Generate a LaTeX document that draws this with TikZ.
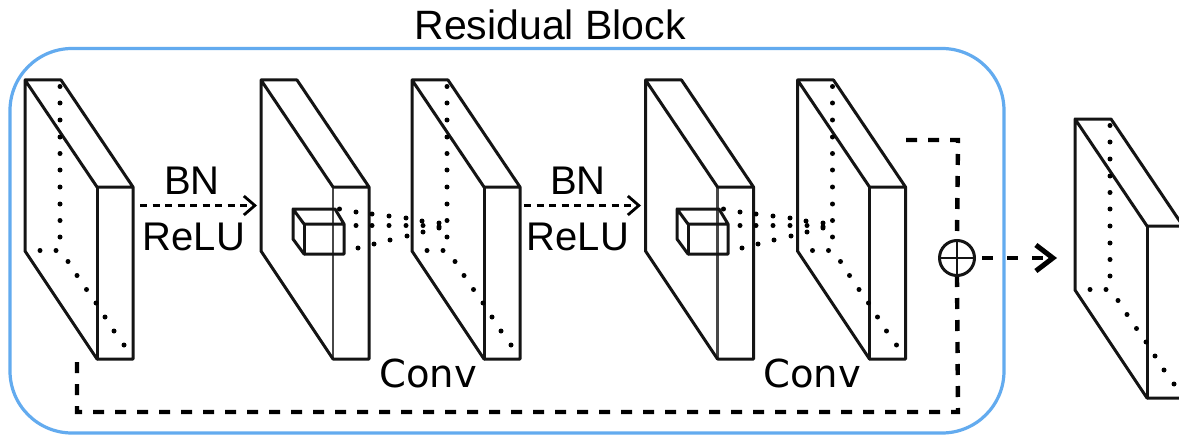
\documentclass[tikz,border=0pt]{standalone}
\usepackage{fontspec}
\setmainfont{Liberation Sans}
\newfontfamily\convfont{DejaVu Sans}
\usetikzlibrary{arrows.meta,calc}
\definecolor{blockblue}{HTML}{63ABEF}
\tikzset{
  edge/.style={line width=3pt,line join=round,line cap=round,draw=black!92},
  inneredge/.style={line width=2.6pt,draw=black!72},
  hiddot/.style={fill=black,draw=none},
  titlelab/.style={font=\fontsize{41}{44}\selectfont,inner sep=0pt,text=black},
  lab/.style={font=\fontsize{40}{42}\selectfont,inner sep=0pt,text=black},
  convlab/.style={font=\convfont\fontsize{38.5}{42}\selectfont,inner sep=0pt,text=black},
  flowline/.style={line width=2.6pt,dash pattern=on 7pt off 5.5pt,-{Straight Barb[length=11pt,width=19pt,line width=2.8pt]}},
  skipline/.style={line width=4.4pt,dash pattern=on 11pt off 11pt},
  outflow/.style={line width=4.4pt,dash pattern=on 11pt off 14pt,-{Straight Barb[length=17pt,width=26pt,line width=5pt]}},
  sumnode/.style={circle,draw=black!92,fill=white,line width=3pt,minimum size=35pt,inner sep=0pt},
  sumcross/.style={line width=2.8pt,draw=black!92}
}
% slab outline: #1 name, #2 dx, #3 dy, #4 style of the inner front edge
\newcommand{\slab}[4]{%
  \begin{scope}[shift={(#2,#3)}]
    \coordinate (#1-a) at (25,80);
    \coordinate (#1-b) at (61,80);
    \coordinate (#1-c) at (97,187);
    \coordinate (#1-d) at (133,187);
    \coordinate (#1-e) at (133,359);
    \coordinate (#1-f) at (97,359);
    \coordinate (#1-g) at (25,251);
    \draw[#4] (#1-c) -- (#1-f);
    \draw[edge] (#1-a) -- (#1-b) -- (#1-d) -- (#1-e) -- (#1-f) -- (#1-g) -- (#1-a) -- (#1-c) -- (#1-d);
  \end{scope}}
% hidden edges of a slab, dotted: #1 dx, #2 dy
\newcommand{\slabdots}[2]{%
  \begin{scope}[shift={(#1,#2)}]
    \foreach \yy in {86.5,103,120,137,153.5,170,187,204,220.5,237}
      \fill[hiddot] (60,\yy) circle (2.5);
    \foreach \xx/\yy in {40/250.5,56/250.5,68/261.5,77/275.5,86.5/289.5,96/303,105/317,114/331,124/345}
      \fill[hiddot] (\xx,\yy) circle (2.5);
  \end{scope}}
% small cube and its receptive-field dots: #1 name, #2 dx
\newcommand{\smallcube}[2]{%
  \begin{scope}[shift={(#2,0)}]
    \coordinate (#1-p) at (293,209);
    \coordinate (#1-q) at (335,209);
    \coordinate (#1-r) at (304,224);
    \coordinate (#1-s) at (344,224);
    \coordinate (#1-t) at (344,254);
    \coordinate (#1-u) at (304,254);
    \coordinate (#1-v) at (293,239);
    \draw[edge] (#1-p) -- (#1-q) -- (#1-s) -- (#1-t) -- (#1-u) -- (#1-v) -- (#1-p) -- (#1-r) -- (#1-s);
    \draw[edge] (#1-r) -- (#1-u);
    \foreach \xx/\yy in {339.5/209,356/212,372/214,389/216,406/218,422/221,439/223,
                         356/225.5,372/225.5,389/225.5,406/225.5,423/225.5,439/226.5,
                         358/248,374/244,390/240,407/236,423/232,439/228}
      \fill[hiddot] (\xx,\yy) circle (2.5);
  \end{scope}}
\begin{document}
\begin{tikzpicture}[x=1pt,y=-1pt]
  \useasboundingbox (0,0) rectangle (1179,436);
  \clip (0,0) rectangle (1179,436);
  \fill[white] (0,0) rectangle (1179,436);
  \node[titlelab] (title) at (550,25) {Residual Block};
  \draw[blockblue,line width=3.2pt,rounded corners=62pt] (10,48.5) rectangle (1004,433);
  \slab{s1}{0}{0}{edge}
  \slabdots{0}{0}
  \slab{s2}{236}{0}{inneredge}
  \slab{s3}{387}{0}{edge}
  \slabdots{387}{0}
  \slab{s4}{620.5}{0}{inneredge}
  \slab{s5}{772.5}{0}{edge}
  \slabdots{772.5}{0}
  \slab{s6}{1050}{39}{edge}
  \slabdots{1050}{39}
  \smallcube{c1}{0}
  \smallcube{c2}{384}
  \node[lab] (bn1) at (192,181) {BN};
  \node[lab] (relu1) at (194,237) {ReLU};
  \node[lab] (bn2) at (578,181) {BN};
  \node[lab] (relu2) at (578,237) {ReLU};
  \node[convlab] (conv1) at (428,373) {Conv};
  \node[convlab] (conv2) at (812,373) {Conv};
  \coordinate (f1a) at (140,205.5);
  \coordinate (f1b) at (257,205.5);
  \coordinate (f2a) at (524,205.5);
  \coordinate (f2b) at (641,205.5);
  \draw[flowline] (f1a) -- (f1b);
  \draw[flowline] (f2a) -- (f2b);
  \node[sumnode] (sum) at (957,258) {};
  \draw[sumcross] (sum.north) -- (sum.south) (sum.west) -- (sum.east);
  \coordinate (skipstart) at (906,140);
  \coordinate (skipcornerA) at (958,140);
  \coordinate (skipcornerB) at (958,412);
  \coordinate (skipcornerC) at (77,412);
  \coordinate (skipend) at (77,362);
  \coordinate (outstart) at (982,258);
  \coordinate (outend) at (1057,258);
  \draw[skipline] (skipstart) -- (skipcornerA) -- (sum.north);
  \draw[skipline] (skipend) -- (skipcornerC) -- (skipcornerB) -- (sum.south);
  \draw[outflow] (outstart) -- (outend);
\end{tikzpicture}
\end{document}
